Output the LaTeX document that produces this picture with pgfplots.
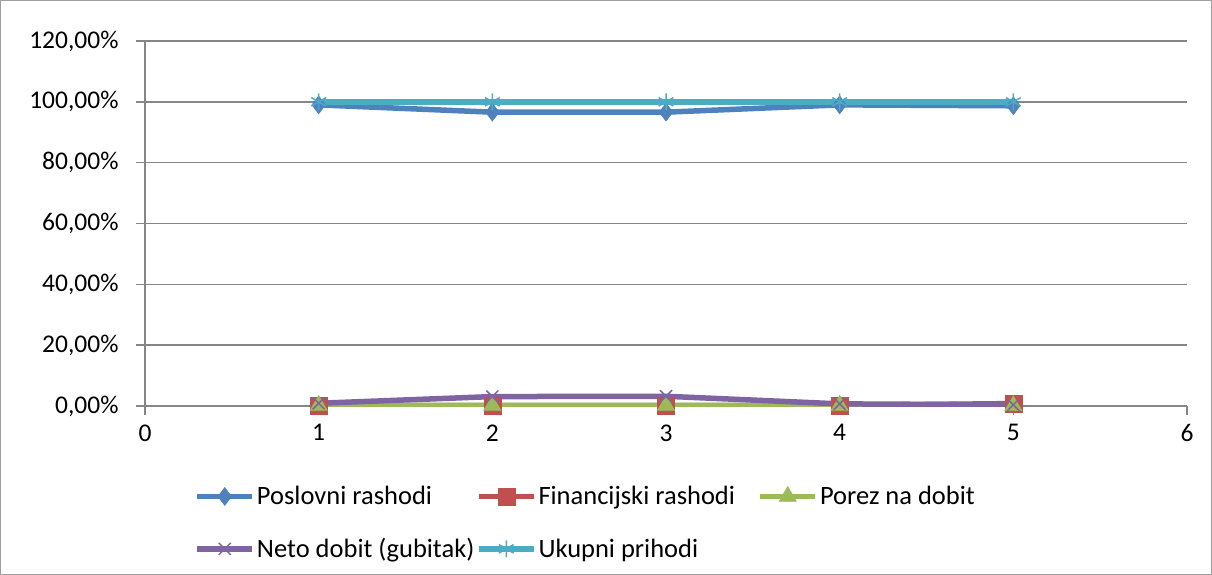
\documentclass[border=0pt]{standalone}
\usepackage{fontspec}
\setmainfont{Carlito}
\usepackage{pgfplots}
\pgfplotsset{compat=1.18}
\definecolor{cBlue}{HTML}{4F81BD}
\definecolor{cRed}{HTML}{C0504D}
\definecolor{cGreen}{HTML}{9BBB59}
\definecolor{cPurple}{HTML}{8064A2}
\definecolor{cCyan}{HTML}{4BACC6}
\definecolor{cGrid}{HTML}{868686}
\begin{document}
\begin{tikzpicture}[x=1bp,y=1bp]
\draw[cGrid!80, line width=1bp] (0.5,-0.5) rectangle (1211.5,-574.5);
\begin{axis}[
  at={(145bp,-406bp)}, anchor=south west,
  scale only axis, width=1042bp, height=365bp,
  xmin=0, xmax=6, ymin=0, ymax=120,
  xtick={0,1,...,6}, ytick={0,20,...,120},
  axis lines=left, axis line style={-, cGrid, line width=1.5bp},
  ymajorgrids, grid style={cGrid, line width=1.5bp},
  tick align=outside, major tick length=9bp, tick style={cGrid, line width=1.5bp},
  /pgf/number format/assume math mode=true,
  tick label style={font=\fontsize{25.5bp}{29bp}\selectfont, black},
  xticklabel style={yshift=-6bp},
  yticklabel style={xshift=-14bp},
  yticklabel={\pgfmathprintnumber[fixed,fixed zerofill,precision=2,use comma]{\tick}\%},
  every axis plot/.append style={line width=5.5bp},
  legend columns=3,
  legend cell align=left,
  legend style={draw=none, fill=none, at={(0.0475,-0.215)}, anchor=north west,
    inner sep=0pt, outer sep=0pt,
    font=\fontsize{26.5bp}{30bp}\selectfont, row sep=28bp,
    nodes={inner sep=2bp},
    /tikz/every even column/.append style={column sep=0bp}},
  legend image code/.code={\draw[mark repeat=2,mark phase=2] plot coordinates {(0bp,0bp)(27.5bp,0bp)(55bp,0bp)};},
]
\addplot[cBlue, mark=diamond*, mark size=9bp, mark options={line width=0.5bp}] coordinates {(1,99.0) (2,96.6) (3,96.6) (4,99.0) (5,98.7)};
\addlegendentry{\makebox[217bp][l]{Poslovni rashodi}}
\addplot[cRed, mark=square*, mark size=8.5bp, mark options={line width=0.5bp}] coordinates {(1,0.1) (2,0.1) (3,0.1) (4,0.2) (5,0.8)};
\addlegendentry{\makebox[217bp][l]{Financijski rashodi}}
\addplot[cGreen, mark=triangle*, mark size=10bp, mark options={line width=0.5bp}] coordinates {(1,0.2) (2,0.2) (3,0.2) (4,0.2) (5,0.1)};
\addlegendentry{Porez na dobit}
\addplot[cPurple, mark=x, mark size=8.5bp, mark options={line width=1.5bp}] coordinates {(1,0.9) (2,3.1) (3,3.2) (4,0.7) (5,0.4)};
\addlegendentry{\makebox[217bp][l]{Neto dobit (gubitak)}}
\addplot[cCyan, mark=asterisk, mark size=8.5bp, mark options={line width=1.5bp}] coordinates {(1,100) (2,100) (3,100) (4,100) (5,100)};
\addlegendentry{Ukupni prihodi}
\end{axis}
\end{tikzpicture}
\end{document}
